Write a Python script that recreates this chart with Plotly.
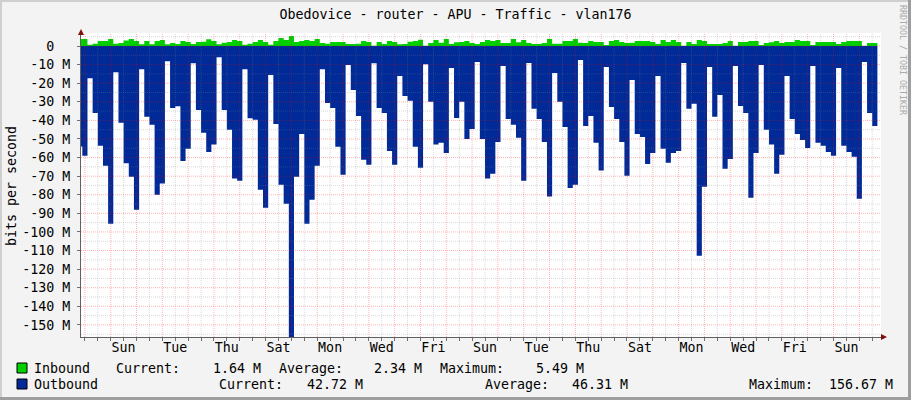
import numpy as np
import plotly.graph_objects as go

# values in Mbit/s, one per graph column (first column is cut by the y axis)
inbound = [3.8, 3.8, 0.7, 1.2, 2.7, 2.7, 3.8, 1.2, 1.6, 2.9, 3.8, 2.7, 0.9, 2.7, 0.9, 2.7, 3.2,
           0.9, 1.6, 1.1, 2.7, 2.1, 1.1, 2.1, 2.3, 3.6, 2.7, 0.9, 1.8, 2.1, 3.2, 2.7, 0.7, 1.2, 2.1,
           3.2, 2.1, 0.7, 2.7, 4.3, 3.2, 5.4, 2.1, 2.7, 3.2, 2.7, 3.8, 1.6, 1.2, 2.1, 2.1, 2.1, 1.1,
           1.1, 1.2, 2.7, 2.1, 0.2, 2.1, 1.1, 2.7, 2.1, 0.9, 1.1, 2.3, 2.7, 3.4, 0.2, 1.6, 3.2, 1.8,
           3.8, 1.1, 2.0, 2.1, 2.7, 1.6, 1.1, 2.1, 3.2, 2.7, 3.2, 1.6, 1.6, 3.8, 2.0, 3.2, 1.6, 1.1,
           1.1, 1.6, 3.8, 1.2, 1.2, 2.7, 2.7, 3.8, 1.8, 1.6, 2.7, 2.1, 2.1, 0.5, 2.7, 3.2, 2.1, 1.6,
           1.8, 2.7, 2.7, 2.7, 2.1, 1.1, 3.2, 2.1, 3.2, 2.1, 0.2, 2.1, 1.1, 3.2, 2.7, 1.1, 1.1, 1.1,
           1.6, 2.7, 0.2, 2.1, 2.1, 2.7, 2.7, 0.5, 1.6, 2.0, 2.7, 1.6, 2.1, 2.1, 3.2, 2.7, 2.7, 0.5,
           2.1, 2.1, 2.1, 2.1, 1.1, 2.1, 2.7, 2.7, 2.7, 0.2, 1.6, 1.6]
outbound = [54, 59, 17.4, 36, 53.7, 64.4, 95.6, 14.1, 41.3, 63, 70.3, 88, 12.5, 38, 42.4, 80, 74,
            8.2, 33.3, 32.4, 61.8, 55.3, 9.3, 34.4, 46.7, 57, 53, 6, 34.4, 45, 71.2, 72.5, 12.5,
            38.8, 39.7, 77.3, 87, 15.6, 42, 74.6, 84.8, 156.67, 70.3, 47.3, 95.6, 82.7, 64.4, 12.5,
            30.6, 33.3, 54.2, 69.3, 10.2, 23.6, 37.6, 61.2, 63.9, 9.3, 33.3, 36, 56.4, 63.9, 16.1,
            26.9, 29.5, 54.2, 65.5, 9.8, 30, 53, 52, 57.5, 11.8, 38.7, 30, 50, 44.6, 8.6, 50, 71.2,
            68.7, 51.6, 10.7, 39.2, 42.4, 49.4, 72.5, 9.1, 33.8, 39.2, 51.6, 81, 14.5, 30, 43.5,
            76.3, 74.6, 7.5, 43, 37.6, 52, 67, 11.3, 32.8, 39.2, 51.6, 69.8, 18.3, 47.3, 48.9, 63.4,
            57.5, 16.1, 55.3, 62.8, 57.5, 56.4, 9.1, 33.8, 31.1, 112.8, 75.7, 11.3, 38.1, 26.3, 66,
            60.7, 10.7, 32.2, 36, 81.6, 57.5, 10.2, 45, 53, 68.7, 58.5, 16.1, 39.2, 47.3, 50.5, 54.8,
            10.7, 52, 53.7, 57, 59, 11.8, 53.7, 57, 59.6, 82.2, 8.6, 36, 43]
day_labels = ["Sun", "Tue", "Thu", "Sat", "Mon", "Wed", "Fri", "Sun", "Tue", "Thu", "Sat", "Mon", "Wed", "Fri", "Sun"]
y_ticks = list(range(0, -160, -10))
y_labels = ["0\u00a0\u00a0"] + [f"{v} M" for v in y_ticks[1:]]

W, H = 911, 400
L, R, T, B = 81, 881, 33, 337
MONO = "DejaVu Sans Mono"
# left edge of every column, plus the right edge of the last one
edges = np.arange(len(outbound) + 1) - 1.5
x_range = [-0.755, 154.2]
y_range = [-156.5, 7]


def py(y):
    # pixels from top -> paper fraction of the plot area
    return (B - y) / (B - T)


def pxp(x):
    return (x - L) / (R - L)


fig = go.Figure()
fig.add_scatter(x=edges, y=inbound + inbound[-1:], mode="lines", line=dict(shape="hv", width=0), fill="tozeroy",
                fillcolor="#00cf00", name="Inbound")
fig.add_scatter(x=edges, y=[-v for v in outbound + outbound[-1:]], mode="lines", line=dict(shape="hv", width=0), fill="tozeroy",
                fillcolor="#002a97", name="Outbound")

shapes = []
# grid goes over the areas, so shapes and not axis grid
for i in np.arange(0, 155, 2.5):
    major = i % 5 == 0
    shapes.append(dict(type="line", xref="x", yref="paper", x0=i, x1=i, y0=0, y1=1, layer="above",
                       line=dict(color="rgba(255,0,0,0.3)" if major else "rgba(128,128,128,0.3)", width=1, dash="1px,1px")))
for v in range(5, -160, -5):
    major = v % 10 == 0
    shapes.append(dict(type="line", xref="paper", yref="y", x0=0, x1=1, y0=v, y1=v, layer="above",
                       line=dict(color="rgba(255,0,0,0.3)" if major else "rgba(128,128,128,0.3)", width=1, dash="1px,1px")))

# arrows at the axis ends
shapes.append(dict(type="path", xref="paper", yref="paper", fillcolor="#7f1010", line_width=0,
                   path=f"M {pxp(78)} {py(35)} L {pxp(84)} {py(35)} L {pxp(81)} {py(29)} Z"))
shapes.append(dict(type="path", xref="paper", yref="paper", fillcolor="#7f1010", line_width=0,
                   path=f"M {pxp(881)} {py(334)} L {pxp(881)} {py(340)} L {pxp(887)} {py(337)} Z"))

# legend boxes
for top, col in [(363, "#00cf00"), (379, "#002a97")]:
    shapes.append(dict(type="rect", xref="paper", yref="paper", x0=pxp(17), x1=pxp(27), y0=py(top), y1=py(top + 10),
                       fillcolor=col, line=dict(color="black", width=1)))

# image frame
shapes.append(dict(type="rect", xref="paper", yref="paper", x0=pxp(0), x1=pxp(2), y0=py(0), y1=py(H), fillcolor="#cfcfcf", line_width=0))
shapes.append(dict(type="rect", xref="paper", yref="paper", x0=pxp(0), x1=pxp(W), y0=py(0), y1=py(2), fillcolor="#cfcfcf", line_width=0))
shapes.append(dict(type="rect", xref="paper", yref="paper", x0=pxp(W - 3), x1=pxp(W), y0=py(0), y1=py(H), fillcolor="#9e9e9e", line_width=0))
shapes.append(dict(type="rect", xref="paper", yref="paper", x0=pxp(0), x1=pxp(W), y0=py(H - 3), y1=py(H), fillcolor="#9e9e9e", line_width=0))

legend_rows = [
    (368, [(34, "Inbound"), (116, "Current:"), (213, "1.64 M"), (279, "Average:"), (374, "2.34 M"), (440, "Maximum:"), (536, "5.49 M")]),
    (384, [(34, "Outbound"), (219, "Current:"), (307, "42.72 M"), (485, "Average:"), (572, "46.31 M"), (749, "Maximum:"), (829, "156.67 M")]),
]
annotations = []
for ypos, items in legend_rows:
    for xpos, txt in items:
        annotations.append(dict(text=txt, xref="paper", yref="paper", x=pxp(xpos - 2), y=py(ypos), xanchor="left", yanchor="middle",
                                showarrow=False, font=dict(family=MONO, size=13.3, color="black")))
annotations.append(dict(text="RRDTOOL / TOBI OETIKER", xref="paper", yref="paper", x=pxp(903), y=py(60), textangle=90,
                        xanchor="center", yanchor="middle", showarrow=False, font=dict(family=MONO, size=8.3, color="#aaaaaa")))
annotations.append(dict(text="bits per second", xref="paper", yref="paper", x=pxp(11), y=py(186), textangle=-90,
                        xanchor="center", yanchor="middle", showarrow=False, font=dict(family=MONO, size=13.3, color="black")))

fig.update_layout(
    width=W, height=H,
    margin=dict(l=L, r=W - R, t=T, b=H - B, pad=0),
    paper_bgcolor="#f3f3f3", plot_bgcolor="white",
    showlegend=False,
    title=dict(text="Obedovice - router - APU - Traffic - vlan176", x=0.5, xanchor="center", y=1 - 14 / H, yanchor="middle",
               font=dict(family=MONO, size=13.3, color="black")),
    shapes=shapes, annotations=annotations,
)
fig.update_xaxes(range=x_range, tickmode="array", tickvals=[7.5 + 10 * i for i in range(len(day_labels))], ticktext=day_labels,
                 ticks="outside", ticklen=3, tickcolor="#707070", showgrid=False, zeroline=False, showline=True, linecolor="#606060",
                 ticklabelstandoff=-5, tickfont=dict(family=MONO, size=13.3, color="black"),
                 minor=dict(tick0=0, dtick=2.5, ticks="outside", ticklen=3, tickcolor="#707070", showgrid=False))
fig.update_yaxes(range=y_range, tickmode="array", tickvals=y_ticks, ticktext=y_labels, ticks="outside", ticklen=3, tickcolor="#707070",
                 showgrid=False, zeroline=False, showline=True, linecolor="#606060",
                 ticklabelstandoff=4, tickfont=dict(family=MONO, size=13.3, color="black"))

fig.write_html("out.html", config=dict(displayModeBar=False),
               post_script="document.body.style.margin='0';document.body.style.background='#f3f3f3';")
